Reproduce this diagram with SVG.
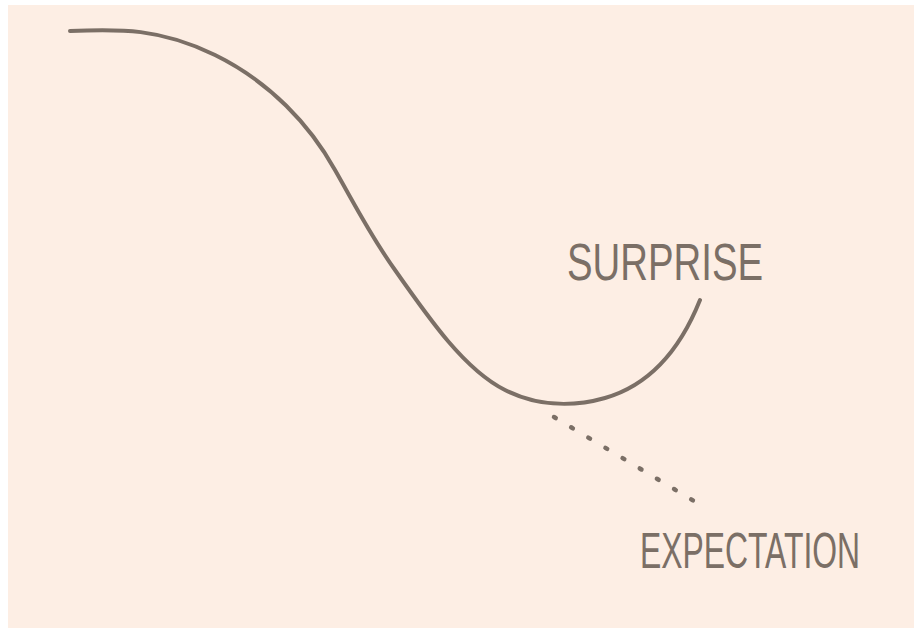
<svg xmlns="http://www.w3.org/2000/svg" width="914" height="628" viewBox="0 0 914 628">
<style>
.curve{fill:none;stroke:#7b6f66;stroke-width:4;stroke-linecap:round;stroke-linejoin:round}
.dots{fill:none;stroke:#7b6f66;stroke-width:4.5;stroke-linecap:round;stroke-dasharray:2 18}
.lbl{font-family:"Liberation Sans",Arial,sans-serif;fill:#7b6f66;font-weight:normal}
</style>
<rect x="0" y="0" width="914" height="628" fill="#ffffff"/>
<rect x="8" y="5" width="906" height="623" fill="#fdeee4"/>
<g id="connectors">
<path class="curve" d="M70,31 C120,29 160,28 215,55 C270,82 310,125 335,170 C355,205 370,235 395,270 C430,320 465,370 505,390 C535,405 570,408 605,398 C650,385 680,350 700,300"/>
<path class="dots" d="M554,417 L694,501"/>
</g>
<g id="surprise">
<text class="lbl" transform="translate(567,280) scale(0.74,1)" x="0" y="0" font-size="52" textLength="265" lengthAdjust="spacingAndGlyphs">SURPRISE</text>
</g>
<g id="expectation">
<text class="lbl" transform="translate(640,568) scale(0.62,1)" x="0" y="0" font-size="50" textLength="355" lengthAdjust="spacingAndGlyphs">EXPECTATION</text>
</g>
</svg>
